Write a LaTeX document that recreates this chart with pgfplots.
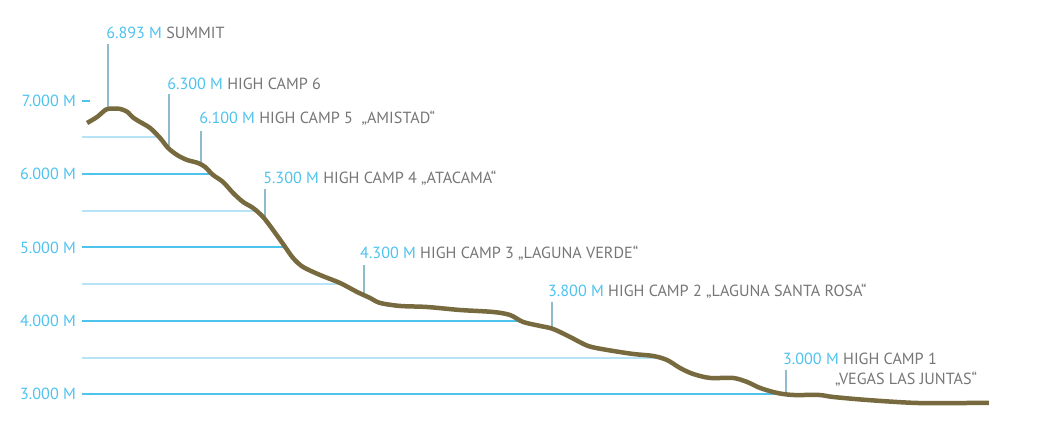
\documentclass[border=0pt]{standalone}
\usepackage{fontspec}
\setmainfont{PT Sans}
\usepackage{pgfplots}
\pgfplotsset{compat=1.18}
\definecolor{elevblue}{RGB}{78,195,238}
\definecolor{lightgrid}{RGB}{182,228,246}
\definecolor{leader}{RGB}{143,188,203}
\definecolor{trail}{RGB}{119,106,62}
\definecolor{campgray}{RGB}{118,118,118}

% elevation profile: x = distance along the route (px), y = altitude (m)
\pgfplotstableread{
x y
87 6696
97 6778
106 6880
113 6893
120 6888
127 6850
133 6770
140 6710
150 6628
160 6492
168 6356
177 6260
187 6192
198 6151
205 6097
213 5988
223 5892
233 5743
243 5620
253 5538
263 5416
273 5238
283 5048
293 4857
303 4734
320 4625
340 4516
357 4394
370 4312
380 4244
400 4203
427 4189
460 4148
493 4121
510 4080
523 3985
540 3931
553 3890
570 3781
588 3658
607 3604
633 3549
653 3522
667 3467
680 3358
693 3277
710 3222
733 3222
747 3168
760 3086
777 3018
793 2990
819 2990
833 2963
867 2922
917 2881
973 2881
989 2881
}\profile

\newcommand{\lbl}{\fontsize{16.2}{19}\selectfont}

\begin{document}
\begin{tikzpicture}
\begin{axis}[
  width=1038bp, height=441bp, scale only axis,
  xmin=0, xmax=1038, ymin=2364, ymax=8372,
  axis line style={draw=none},
  xtick=\empty,
  ytick={3000,4000,5000,6000,7000},
  yticklabels={3.000 M,4.000 M,5.000 M,6.000 M,7.000 M},
  major tick length=0pt,
  yticklabel style={anchor=east, inner sep=0pt, xshift=76bp,
    text=elevblue, font=\lbl},
  clip=false,
]
% altitude lines
\addplot[lightgrid, line width=2bp] coordinates {(82,6500) (159,6500)};
\addplot[lightgrid, line width=2bp] coordinates {(82,5500) (256,5500)};
\addplot[lightgrid, line width=2bp] coordinates {(82,4500) (342,4500)};
\addplot[lightgrid, line width=2bp] coordinates {(82,3500) (658,3500)};
\addplot[elevblue, line width=2bp] coordinates {(82,7000) (90,7000)};
\addplot[elevblue, line width=2bp] coordinates {(82,6000) (212,6000)};
\addplot[elevblue, line width=2bp] coordinates {(82,5000) (285,5000)};
\addplot[elevblue, line width=2bp] coordinates {(82,4000) (521,4000)};
\addplot[elevblue, line width=2bp] coordinates {(82,3000) (780,3000)};

% leaders to the camps
\addplot[leader, line width=1.5bp] coordinates {(108,7772) (108,6890)};
\addplot[leader, line width=1.5bp] coordinates {(169,7091) (169,6345)};
\addplot[leader, line width=1.5bp] coordinates {(201,6587) (201,6130)};
\addplot[leader, line width=1.5bp] coordinates {(265,5797) (265,5380)};
\addplot[leader, line width=1.5bp] coordinates {(364,4762) (364,4350)};
\addplot[leader, line width=1.5bp] coordinates {(552,4257) (552,3895)};
\addplot[leader, line width=1.5bp] coordinates {(786,3331) (786,3005)};

% the route
\addplot[trail, line width=4.5bp, smooth, tension=0.5] table {\profile};

\begin{scope}[every node/.style={anchor=base west, inner sep=0pt, font=\lbl, text=campgray}]
\node at (axis cs:106,7841) {\textcolor{elevblue}{6.893 M} SUMMIT};
\node at (axis cs:167,7159) {\textcolor{elevblue}{6.300 M} HIGH CAMP 6};
\node at (axis cs:199,6683) {\textcolor{elevblue}{6.100 M} HIGH CAMP 5\ \ „AMISTAD“};
\node at (axis cs:263,5865) {\textcolor{elevblue}{5.300 M} HIGH CAMP 4 „ATACAMA“};
\node at (axis cs:360,4843) {\textcolor{elevblue}{4.300 M} HIGH CAMP 3 „LAGUNA VERDE“};
\node at (axis cs:548,4326) {\textcolor{elevblue}{3.800 M} HIGH CAMP 2 „LAGUNA SANTA ROSA“};
\node at (axis cs:783,3399) {\textcolor{elevblue}{3.000 M} HIGH CAMP 1};
\node at (axis cs:835,3127) {„VEGAS LAS JUNTAS“};
\end{scope}
\end{axis}
\end{tikzpicture}
\end{document}
